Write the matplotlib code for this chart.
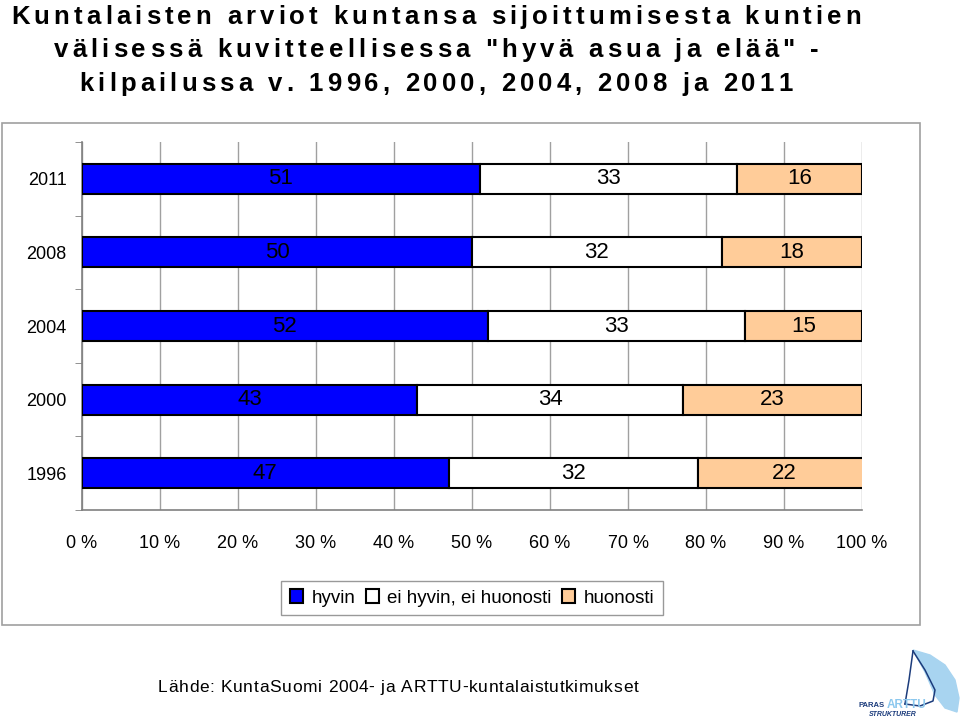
import numpy as np
import matplotlib.pyplot as plt
from matplotlib.patches import Rectangle, Polygon
from matplotlib.font_manager import FontProperties

plt.rcParams['font.family'] = ['Liberation Sans', 'DejaVu Sans']

# data (top to bottom as in the chart)
years = ['2011', '2008', '2004', '2000', '1996']
hyvin = [51, 50, 52, 43, 47]
neutral = [33, 32, 33, 34, 32]
huonosti = [16, 18, 15, 23, 22]
series_names = ['hyvin', 'ei hyvin, ei huonosti', 'huonosti']
colors = ['#0000ff', '#ffffff', '#ffcc99']

title_lines = ['Kuntalaisten arviot kuntansa sijoittumisesta kuntien',
               'välisessä kuvitteellisessa "hyvä asua ja elää" -',
               'kilpailussa v. 1996, 2000, 2004, 2008 ja 2011']
source = 'Lähde: KuntaSuomi 2004- ja ARTTU-kuntalaistutkimukset'

W, H = 960, 722
fig = plt.figure(figsize=(W / 100, H / 100), dpi=100)
renderer = fig.canvas.get_renderer()


def char_widths(s, prop):
    # advance width of each char, measured between two bars
    base = renderer.get_text_width_height_descent('||', prop, ismath=False)[0]
    return [renderer.get_text_width_height_descent('|' + c + '|', prop, ismath=False)[0] - base
            for c in s]


def spaced_text(s, cx, base_y, prop, track, **kw):
    # draw a line char by char with extra letter spacing (pixel coords)
    ws = char_widths(s, prop)
    total = sum(ws) + track * (len(s) - 1)
    x = cx - total / 2
    for c, w in zip(s, ws):
        fig.text(x / W, 1 - base_y / H, c, fontproperties=prop,
                 ha='left', va='baseline', **kw)
        x += w + track


# outer frame of the chart area
fig.patches.append(Rectangle((2 / W, 1 - 625 / H), 918 / W, 502 / H,
                             transform=fig.transFigure, fill=False,
                             edgecolor='#a0a0a0', linewidth=1.2))

ax = fig.add_axes([82 / W, 1 - 510 / H, 780 / W, 368 / H])

y = np.arange(len(years))
left = np.zeros(len(years))
for vals, col, name in zip([hyvin, neutral, huonosti], colors, series_names):
    vals = np.array(vals, dtype=float)
    ax.barh(y, vals, left=left, height=0.41, color=col,
            edgecolor='black', linewidth=1.5, label=name, zorder=3)
    for yi, l, v in zip(y, left, vals):
        ax.text(l + v / 2, yi, f'{int(v)}', ha='center', va='center',
                fontsize=16, color='black', zorder=4)
    left = left + vals

ax.set_xlim(0, 100)
ax.set_ylim(len(years) - 0.5, -0.5)
ax.set_xticks(np.arange(0, 101, 10))
ax.set_xticklabels([f'{v} %' for v in range(0, 101, 10)], fontsize=13)
ax.tick_params(axis='x', length=0, pad=18)
ax.set_yticks(y)
ax.set_yticklabels(years, fontsize=13)
ax.tick_params(axis='y', which='major', length=0, pad=11)
ax.set_yticks(np.arange(-0.5, len(years), 1), minor=True)
ax.tick_params(axis='y', which='minor', length=5, color='#808080')
ax.grid(axis='x', color='#a0a0a0', linewidth=1, zorder=0)
for s in ['top', 'right']:
    ax.spines[s].set_visible(False)
for s in ['left', 'bottom']:
    ax.spines[s].set_color('#808080')
    ax.spines[s].set_linewidth(1.2)

leg = fig.legend(loc='center', bbox_to_anchor=(472 / W, 1 - 598 / H),
                 ncol=3, fontsize=13.5, frameon=True, fancybox=False,
                 handlelength=0.7, handleheight=0.7, handletextpad=0.45,
                 columnspacing=0.55, borderpad=0.45)
leg.get_frame().set_edgecolor('#808080')
leg.get_frame().set_linewidth(1)

# title with wide letter spacing
tprop = FontProperties(family='Liberation Sans', size=18.5, weight='bold')
w1 = char_widths(title_lines[0], tprop)
track = (850 - sum(w1)) / (len(title_lines[0]) - 1)
for line, by in zip(title_lines, [24, 57, 91]):
    spaced_text(line, 436, by, tprop, track)

sprop = FontProperties(family='Liberation Sans', size=12.5)
ws = char_widths(source, sprop)
strack = (480 - sum(ws)) / (len(source) - 1)
spaced_text(source, 398, 692, sprop, strack)

# small logo in the corner (pixel coords)
lax = fig.add_axes([850 / W, 0.0, 110 / W, 77 / H])
lax.set_xlim(850, 960)
lax.set_ylim(722, 645)
lax.axis('off')
lax.add_patch(Polygon([[913, 650], [930, 655], [945, 665], [955, 680],
                       [959, 698], [957, 712], [945, 708], [935, 695],
                       [925, 672]], closed=True, color='#a8d4f0'))
lax.plot([913, 909, 905], [651, 680, 704], color='#1c3c7c', lw=1.1)
lax.plot([913, 925, 935, 933, 920, 905], [651, 670, 690, 701, 706, 704],
         color='#1c3c7c', lw=1.1)
lax.text(858, 707, 'PARAS', fontsize=5.5, fontweight='bold', color='#1c3c7c',
         va='baseline')
lax.text(887, 708, 'ARTTU', fontsize=8.5, fontweight='bold', color='#8cc8ee',
         va='baseline')
lax.text(869, 716, 'STRUKTURER', fontsize=5, fontweight='bold',
         fontstyle='italic', color='#1c3c7c', va='baseline')

fig.savefig('out.png', dpi=100)
